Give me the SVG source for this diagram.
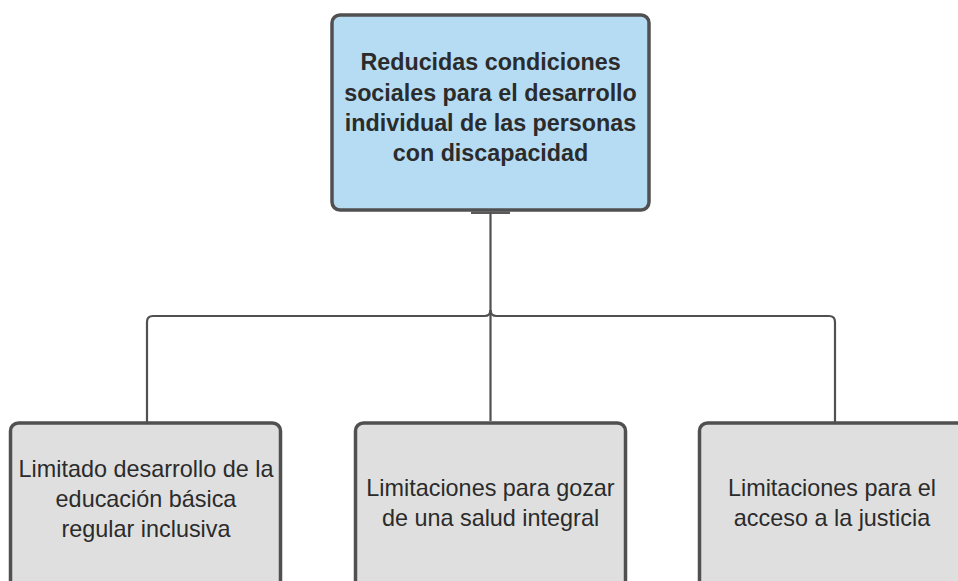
<svg xmlns="http://www.w3.org/2000/svg" width="958" height="581" viewBox="0 0 958 581">
<style>
.box{stroke:#505050;stroke-width:3.5}
.top{fill:#b6dcf3}
.bot{fill:#dfdfdf}
.tt{font-family:"Liberation Sans",Arial,sans-serif;font-weight:bold;font-size:23.3px;fill:#2b2b2b;text-anchor:middle}
.bt{font-family:"Liberation Sans",Arial,sans-serif;font-size:23.4px;fill:#2b2b2b;text-anchor:middle}
.ln{fill:none;stroke:#505050;stroke-width:2.2}
</style>
<rect width="958" height="581" fill="#ffffff"/>
<g id="connectors">
<line x1="471" y1="212.8" x2="510" y2="212.8" stroke="#5a5a5a" stroke-width="2.6"/>
<path class="ln" d="M490.5 212 V421"/>
<path class="ln" d="M490.5 310 Q490.5 316 484.5 316 H153 Q147 316 147 322 V422"/>
<path class="ln" d="M490.5 310 Q490.5 316 496.5 316 H829 Q835 316 835 322 V422"/>
</g>
<g id="root">
<rect class="box top" x="332" y="15" width="317" height="195" rx="8"/>
<text class="tt" x="490.5" y="70">Reducidas condiciones</text>
<text class="tt" x="490.5" y="100.5">sociales para el desarrollo</text>
<text class="tt" x="490.5" y="131">individual de las personas</text>
<text class="tt" x="490.5" y="161">con discapacidad</text>
</g>
<g id="n1">
<rect class="box bot" x="10.5" y="423" width="270" height="200" rx="8"/>
<text class="bt" x="146" y="477">Limitado desarrollo de la</text>
<text class="bt" x="146" y="507">educación básica</text>
<text class="bt" x="146" y="537">regular inclusiva</text>
</g>
<g id="n2">
<rect class="box bot" x="355.5" y="423" width="270" height="200" rx="8"/>
<text class="bt" x="490.5" y="496">Limitaciones para gozar</text>
<text class="bt" x="490.5" y="526">de una salud integral</text>
</g>
<g id="n3">
<rect class="box bot" x="699.5" y="423" width="270" height="200" rx="8"/>
<text class="bt" x="832" y="496">Limitaciones para el</text>
<text class="bt" x="832" y="526">acceso a la justicia</text>
</g>
</svg>
